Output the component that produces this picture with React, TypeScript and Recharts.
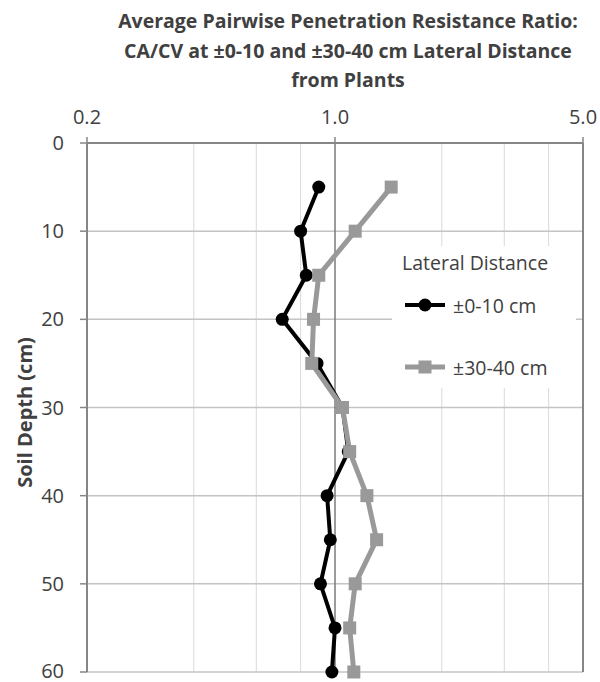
import React from 'react'
import { LineChart, Line, XAxis, YAxis, CartesianGrid, ReferenceLine } from 'recharts'

const depths = [5, 10, 15, 20, 25, 30, 35, 40, 45, 50, 55, 60]
const nearRatio = [0.9, 0.8, 0.83, 0.71, 0.89, 1.05, 1.09, 0.95, 0.97, 0.91, 1.0, 0.98]
const farRatio = [1.44, 1.14, 0.9, 0.87, 0.86, 1.05, 1.1, 1.23, 1.31, 1.14, 1.1, 1.13]
const ratioTicks = [0.2, 1.0, 5.0]
const minorGrid = [0.4, 0.6, 0.8, 2, 3, 4]
const depthTicks = [0, 10, 20, 30, 40, 50, 60]
const titleLines = [
  'Average Pairwise Penetration Resistance Ratio:',
  'CA/CV at ±0-10 and ±30-40 cm Lateral Distance',
  'from Plants',
]
const legendTitle = 'Lateral Distance'
const seriesNames = ['±0-10 cm', '±30-40 cm']

const data = depths.map((d, i) => ({ depth: d, near: nearRatio[i], far: farRatio[i] }))

const FONT = '"Open Sans", sans-serif'
const TEXT = '#404040'
const AXIS = '#868686'
const FAR = '#999999'

const DepthLabel = (props: any) => {
  const { viewBox } = props
  const cx = viewBox.x + 24
  const cy = viewBox.y + viewBox.height / 2 + 5
  return (
    <text
      x={cx}
      y={cy}
      transform={`rotate(-90 ${cx} ${cy})`}
      textAnchor="middle"
      dominantBaseline="central"
      fontFamily={FONT}
      fontWeight={700}
      fontSize={20}
      fill={TEXT}
    >
      Soil Depth (cm)
    </text>
  )
}

const Square = (props: any) => {
  const { cx, cy, index } = props
  if (cx == null || cy == null) return null
  return <rect key={`sq-${index}`} x={cx - 6.5} y={cy - 6.5} width={13} height={13} fill={FAR} />
}

function LegendBox() {
  return (
    <div
      style={{
        position: 'absolute',
        left: 392,
        top: 246,
        width: 184,
        height: 142,
        background: '#fff',
        fontFamily: FONT,
        fontSize: 19.5,
        color: TEXT,
      }}
    >
      <div style={{ position: 'absolute', left: 10, top: 2, lineHeight: '30px', whiteSpace: 'nowrap' }}>{legendTitle}</div>
      {seriesNames.map((name, i) => (
        <div
          key={name}
          style={{
            position: 'absolute',
            left: 13,
            top: 44 + i * 62,
            height: 30,
            display: 'flex',
            alignItems: 'center',
            whiteSpace: 'nowrap',
          }}
        >
          <svg width={40} height={20} style={{ marginRight: 8 }}>
            <line x1={0} y1={10} x2={40} y2={10} stroke={i === 0 ? '#000' : FAR} strokeWidth={i === 0 ? 4 : 5} />
            {i === 0 ? (
              <circle cx={20} cy={10} r={6.5} fill="#000" />
            ) : (
              <rect x={13.5} y={3.5} width={13} height={13} fill={FAR} />
            )}
          </svg>
          <span>{name}</span>
        </div>
      ))}
    </div>
  )
}

export default function App() {
  return (
    <div style={{ position: 'absolute', left: 0, top: 0, width: 600, height: 682, background: '#fff', overflow: 'hidden' }}>
      <div
        style={{
          position: 'absolute',
          left: 90,
          top: 6,
          width: 516,
          textAlign: 'center',
          fontFamily: FONT,
          fontWeight: 700,
          fontSize: 19.5,
          lineHeight: '29.5px',
          color: TEXT,
          whiteSpace: 'nowrap',
        }}
      >
        {titleLines.map((t) => (
          <div key={t}>{t}</div>
        ))}
      </div>
      <LineChart
        width={600}
        height={682}
        data={data}
        layout="vertical"
        margin={{ top: 103, right: 17, bottom: 10, left: 0 }}
        style={{ position: 'absolute', left: 0, top: 0 }}
      >
        <CartesianGrid horizontal={false} verticalValues={minorGrid} stroke="#d9d9d9" strokeWidth={1} />
        <CartesianGrid vertical={false} stroke="#c4c4c4" strokeWidth={1.5} />
        <ReferenceLine x={1} stroke="#7a7a7a" strokeWidth={1.5} />
        <ReferenceLine x={5} stroke={AXIS} strokeWidth={2} />
        <XAxis
          type="number"
          orientation="top"
          scale="log"
          domain={[0.2, 5]}
          ticks={ratioTicks}
          allowDataOverflow
          height={40}
          tickSize={6}
          tickMargin={13}
          tickFormatter={(v: number) => v.toFixed(1)}
          axisLine={{ stroke: AXIS, strokeWidth: 2 }}
          tickLine={{ stroke: AXIS, strokeWidth: 1.5 }}
          tick={{ fill: TEXT, fontSize: 20, fontFamily: FONT }}
        />
        <YAxis
          type="number"
          dataKey="depth"
          domain={[0, 60]}
          ticks={depthTicks}
          width={87}
          tickSize={7}
          tickMargin={16}
          axisLine={{ stroke: AXIS, strokeWidth: 2 }}
          tickLine={{ stroke: AXIS, strokeWidth: 1.5 }}
          tick={{ fill: TEXT, fontSize: 20, fontFamily: FONT }}
          label={{ value: 'Soil Depth (cm)', content: DepthLabel }}
        />
        <Line
          dataKey="near"
          name={seriesNames[0]}
          stroke="#000"
          strokeWidth={4}
          dot={{ r: 6.5, fill: '#000', stroke: '#000', strokeWidth: 0 }}
          isAnimationActive={false}
        />
        <Line
          dataKey="far"
          name={seriesNames[1]}
          stroke={FAR}
          strokeWidth={5}
          dot={Square}
          isAnimationActive={false}
        />
      </LineChart>
      <LegendBox />
    </div>
  )
}
